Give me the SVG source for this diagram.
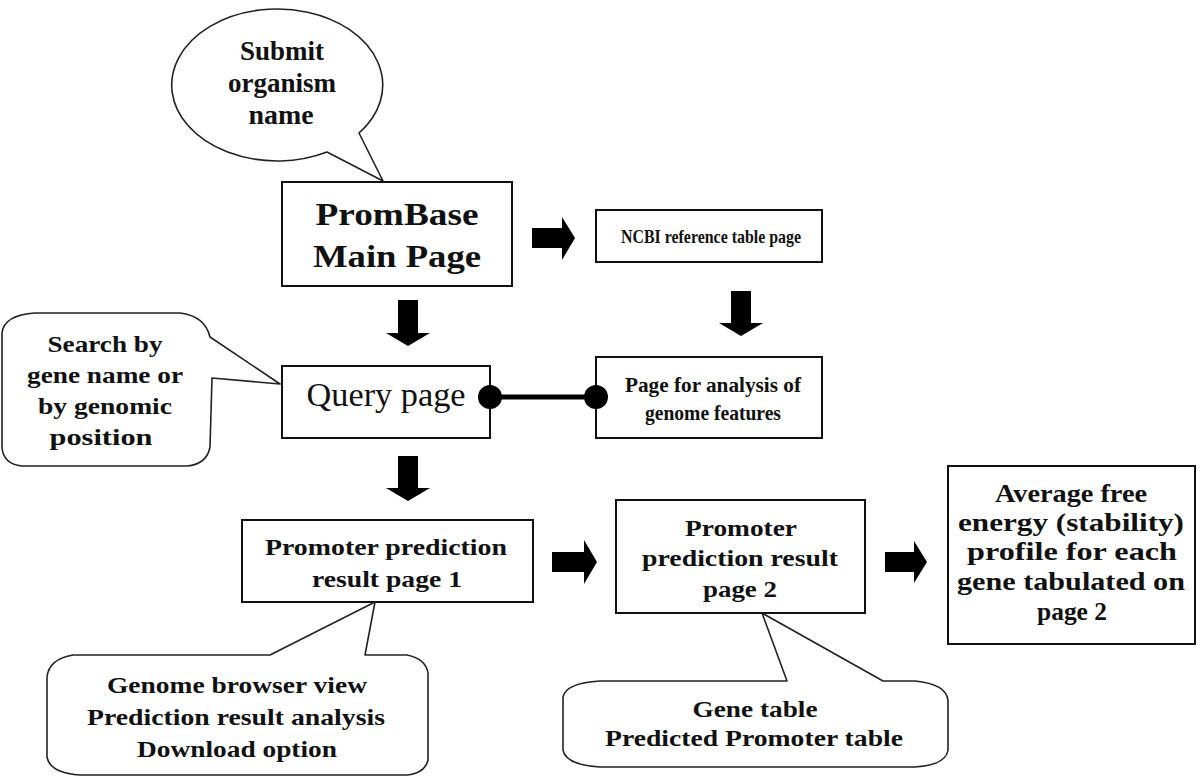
<svg xmlns="http://www.w3.org/2000/svg" width="1200" height="778" viewBox="0 0 1200 778">
<defs>
<style>
.box{fill:#fff;stroke:#111;stroke-width:2}
.call{fill:#fff;stroke:#222;stroke-width:1.6;stroke-linejoin:round}
.t{font-family:"Liberation Serif","Times New Roman",serif;font-weight:bold;fill:#111;text-anchor:middle}
.r{font-family:"Liberation Serif","Times New Roman",serif;font-weight:normal;fill:#111;text-anchor:middle}
.arr{fill:#000}
</style>
</defs>
<rect width="1200" height="778" fill="#fff"/>

<g id="callout-submit">
<path class="call" d="M359,133 A105.5,76 0 1 0 327,152 L383,181 Z"/>
<text class="t" font-size="27" x="282" y="60" textLength="84" lengthAdjust="spacingAndGlyphs">Submit</text>
<text class="t" font-size="27" x="282" y="92" textLength="108" lengthAdjust="spacingAndGlyphs">organism</text>
<text class="t" font-size="27" x="281" y="124" textLength="65" lengthAdjust="spacingAndGlyphs">name</text>
</g>

<g id="main-page">
<rect class="box" x="282" y="182" width="230" height="104"/>
<text class="t" font-size="31" x="397" y="225" textLength="163" lengthAdjust="spacingAndGlyphs">PromBase</text>
<text class="t" font-size="31" x="397" y="267" textLength="168" lengthAdjust="spacingAndGlyphs">Main Page</text>
</g>

<g id="ncbi-page">
<rect class="box" x="596" y="210" width="226" height="52"/>
<text class="t" font-size="19" x="711" y="243" textLength="180" lengthAdjust="spacingAndGlyphs">NCBI reference table page</text>
</g>

<g id="callout-search">
<path class="call" d="M35,313 L180,313 Q205,316 210,337 L280,384 L212,378 L210,447 Q207,464 187,466 L22,466 Q3,464 2,447 L2,333 Q4,315 35,313 Z"/>
<text class="t" font-size="24" x="105" y="352" textLength="115" lengthAdjust="spacingAndGlyphs">Search by</text>
<text class="t" font-size="24" x="105" y="383" textLength="156" lengthAdjust="spacingAndGlyphs">gene name or</text>
<text class="t" font-size="24" x="105" y="414" textLength="134" lengthAdjust="spacingAndGlyphs">by genomic</text>
<text class="t" font-size="24" x="101" y="445" textLength="103" lengthAdjust="spacingAndGlyphs">position</text>
</g>

<g id="query-page">
<rect class="box" x="282" y="366" width="208" height="72"/>
<text class="r" font-size="33" x="386" y="406" textLength="159" lengthAdjust="spacingAndGlyphs">Query page</text>
</g>

<g id="analysis-page">
<rect class="box" x="596" y="357" width="226" height="81"/>
<text class="t" font-size="21" x="713" y="392" textLength="176" lengthAdjust="spacingAndGlyphs">Page for analysis of</text>
<text class="t" font-size="21" x="713" y="420" textLength="136" lengthAdjust="spacingAndGlyphs">genome features</text>
</g>

<g id="promoter-page-1">
<rect class="box" x="242" y="520" width="291" height="82"/>
<text class="t" font-size="24" x="386" y="555" textLength="242" lengthAdjust="spacingAndGlyphs">Promoter prediction</text>
<text class="t" font-size="24" x="387" y="587" textLength="150" lengthAdjust="spacingAndGlyphs">result page 1</text>
</g>

<g id="promoter-page-2">
<rect class="box" x="616" y="500" width="249" height="113"/>
<text class="t" font-size="24" x="741" y="536" textLength="112" lengthAdjust="spacingAndGlyphs">Promoter</text>
<text class="t" font-size="24" x="740" y="566" textLength="196" lengthAdjust="spacingAndGlyphs">prediction result</text>
<text class="t" font-size="24" x="740" y="597" textLength="74" lengthAdjust="spacingAndGlyphs">page 2</text>
</g>

<g id="free-energy">
<rect class="box" x="948" y="466" width="247" height="178"/>
<text class="t" font-size="26" x="1071" y="502" textLength="152" lengthAdjust="spacingAndGlyphs">Average free</text>
<text class="t" font-size="26" x="1071" y="531" textLength="226" lengthAdjust="spacingAndGlyphs">energy (stability)</text>
<text class="t" font-size="26" x="1072" y="560" textLength="210" lengthAdjust="spacingAndGlyphs">profile for each</text>
<text class="t" font-size="26" x="1071" y="590" textLength="228" lengthAdjust="spacingAndGlyphs">gene tabulated on</text>
<text class="t" font-size="26" x="1072" y="620" textLength="70" lengthAdjust="spacingAndGlyphs">page 2</text>
</g>

<g id="callout-browser">
<path class="call" d="M73,655 L270,655 L375,602 L365,655 L407,655 Q426,659 428,673 L428,760 Q425,773 407,775 L80,775 Q50,773 47,757 L47,677 Q49,659 73,655 Z"/>
<text class="t" font-size="23" x="237" y="693" textLength="260" lengthAdjust="spacingAndGlyphs">Genome browser view</text>
<text class="t" font-size="23" x="236" y="725" textLength="298" lengthAdjust="spacingAndGlyphs">Prediction result analysis</text>
<text class="t" font-size="23" x="237" y="757" textLength="200" lengthAdjust="spacingAndGlyphs">Download option</text>
</g>

<g id="callout-tables">
<path class="call" d="M600,681 L787,681 L762,613 L883,681 L915,681 Q946,684 948,700 L948,750 Q946,765 915,767 L600,767 Q566,765 563,750 L563,697 Q566,683 600,681 Z"/>
<text class="t" font-size="23" x="755" y="717" textLength="125" lengthAdjust="spacingAndGlyphs">Gene table</text>
<text class="t" font-size="23" x="754" y="746" textLength="298" lengthAdjust="spacingAndGlyphs">Predicted Promoter table</text>
</g>

<g id="connectors">
<path class="arr" d="M532,228 L562,228 L562,217 L575,238 L562,260 L562,248 L532,248 Z"/>
<path class="arr" d="M398,300 L418,300 L418,333 L430,333 L408,346 L386,333 L398,333 Z"/>
<path class="arr" d="M731,291 L751,291 L751,323 L763,323 L741,336 L719,323 L731,323 Z"/>
<path class="arr" d="M398,456 L418,456 L418,488 L430,488 L408,501 L386,488 L398,488 Z"/>
<path class="arr" d="M552,552 L584,552 L584,540 L597,562 L584,584 L584,572 L552,572 Z"/>
<path class="arr" d="M885,552 L914,552 L914,541 L927,562 L914,583 L914,572 L885,572 Z"/>
<line x1="490" y1="397" x2="596" y2="397" stroke="#000" stroke-width="5"/>
<circle cx="490" cy="397" r="12" fill="#000"/>
<circle cx="596" cy="397" r="12" fill="#000"/>
</g>
</svg>
